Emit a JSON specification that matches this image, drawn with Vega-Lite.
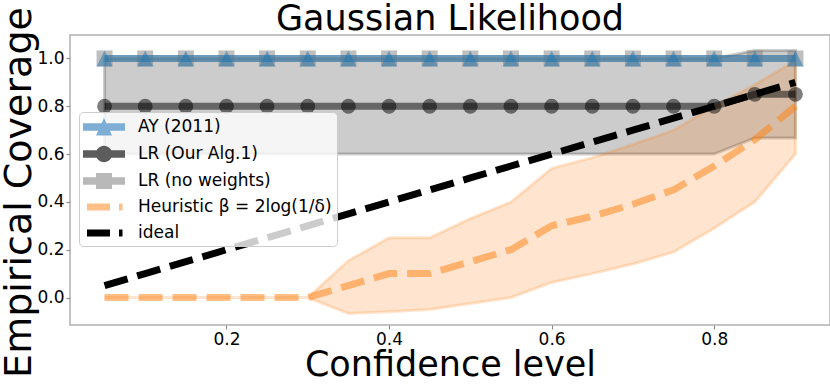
{
  "$schema": "https://vega.github.io/schema/vega-lite/v6.json",
  "width": 760,
  "height": 290,
  "autosize": {"type": "none"},
  "padding": {"left": 70, "top": 35, "right": 0, "bottom": 60},
  "background": "white",
  "title": {"text": "Gaussian Likelihood", "fontSize": 35, "fontWeight": "normal", "font": "DejaVu Sans", "color": "#000", "anchor": "middle", "frame": "group", "baseline": "alphabetic", "offset": -58},
  "data": {"values": [
    {"series": "AY (2011)", "x": 0.05, "y": 1}, {"series": "AY (2011)", "x": 0.1, "y": 1}, {"series": "AY (2011)", "x": 0.15, "y": 1}, {"series": "AY (2011)", "x": 0.2, "y": 1}, {"series": "AY (2011)", "x": 0.25, "y": 1}, {"series": "AY (2011)", "x": 0.3, "y": 1}, {"series": "AY (2011)", "x": 0.35, "y": 1}, {"series": "AY (2011)", "x": 0.4, "y": 1}, {"series": "AY (2011)", "x": 0.45, "y": 1}, {"series": "AY (2011)", "x": 0.5, "y": 1}, {"series": "AY (2011)", "x": 0.55, "y": 1}, {"series": "AY (2011)", "x": 0.6, "y": 1}, {"series": "AY (2011)", "x": 0.65, "y": 1}, {"series": "AY (2011)", "x": 0.7, "y": 1}, {"series": "AY (2011)", "x": 0.75, "y": 1}, {"series": "AY (2011)", "x": 0.8, "y": 1}, {"series": "AY (2011)", "x": 0.85, "y": 1}, {"series": "AY (2011)", "x": 0.9, "y": 1},
    {"series": "LR (Our Alg.1)", "x": 0.05, "y": 0.8, "lo": 0.6, "hi": 1.0}, {"series": "LR (Our Alg.1)", "x": 0.1, "y": 0.8, "lo": 0.6, "hi": 1.0}, {"series": "LR (Our Alg.1)", "x": 0.15, "y": 0.8, "lo": 0.6, "hi": 1.0}, {"series": "LR (Our Alg.1)", "x": 0.2, "y": 0.8, "lo": 0.6, "hi": 1.0}, {"series": "LR (Our Alg.1)", "x": 0.25, "y": 0.8, "lo": 0.6, "hi": 1.0}, {"series": "LR (Our Alg.1)", "x": 0.3, "y": 0.8, "lo": 0.6, "hi": 1.0}, {"series": "LR (Our Alg.1)", "x": 0.35, "y": 0.8, "lo": 0.6, "hi": 1.0}, {"series": "LR (Our Alg.1)", "x": 0.4, "y": 0.8, "lo": 0.6, "hi": 1.0}, {"series": "LR (Our Alg.1)", "x": 0.45, "y": 0.8, "lo": 0.6, "hi": 1.0}, {"series": "LR (Our Alg.1)", "x": 0.5, "y": 0.8, "lo": 0.6, "hi": 1.0}, {"series": "LR (Our Alg.1)", "x": 0.55, "y": 0.8, "lo": 0.6, "hi": 1.0}, {"series": "LR (Our Alg.1)", "x": 0.6, "y": 0.8, "lo": 0.6, "hi": 1.0}, {"series": "LR (Our Alg.1)", "x": 0.65, "y": 0.8, "lo": 0.6, "hi": 1.0}, {"series": "LR (Our Alg.1)", "x": 0.7, "y": 0.8, "lo": 0.6, "hi": 1.0}, {"series": "LR (Our Alg.1)", "x": 0.75, "y": 0.8, "lo": 0.6, "hi": 1.0}, {"series": "LR (Our Alg.1)", "x": 0.8, "y": 0.8, "lo": 0.6, "hi": 1.0}, {"series": "LR (Our Alg.1)", "x": 0.85, "y": 0.85, "lo": 0.667, "hi": 1.033}, {"series": "LR (Our Alg.1)", "x": 0.9, "y": 0.85, "lo": 0.667, "hi": 1.033},
    {"series": "LR (no weights)", "x": 0.05, "y": 1}, {"series": "LR (no weights)", "x": 0.1, "y": 1}, {"series": "LR (no weights)", "x": 0.15, "y": 1}, {"series": "LR (no weights)", "x": 0.2, "y": 1}, {"series": "LR (no weights)", "x": 0.25, "y": 1}, {"series": "LR (no weights)", "x": 0.3, "y": 1}, {"series": "LR (no weights)", "x": 0.35, "y": 1}, {"series": "LR (no weights)", "x": 0.4, "y": 1}, {"series": "LR (no weights)", "x": 0.45, "y": 1}, {"series": "LR (no weights)", "x": 0.5, "y": 1}, {"series": "LR (no weights)", "x": 0.55, "y": 1}, {"series": "LR (no weights)", "x": 0.6, "y": 1}, {"series": "LR (no weights)", "x": 0.65, "y": 1}, {"series": "LR (no weights)", "x": 0.7, "y": 1}, {"series": "LR (no weights)", "x": 0.75, "y": 1}, {"series": "LR (no weights)", "x": 0.8, "y": 1}, {"series": "LR (no weights)", "x": 0.85, "y": 1}, {"series": "LR (no weights)", "x": 0.9, "y": 1},
    {"series": "Heuristic β = 2log(1/δ)", "x": 0.05, "y": 0, "lo": 0, "hi": 0}, {"series": "Heuristic β = 2log(1/δ)", "x": 0.1, "y": 0, "lo": 0, "hi": 0}, {"series": "Heuristic β = 2log(1/δ)", "x": 0.15, "y": 0, "lo": 0, "hi": 0}, {"series": "Heuristic β = 2log(1/δ)", "x": 0.2, "y": 0, "lo": 0, "hi": 0}, {"series": "Heuristic β = 2log(1/δ)", "x": 0.25, "y": 0, "lo": 0, "hi": 0}, {"series": "Heuristic β = 2log(1/δ)", "x": 0.3, "y": 0, "lo": 0, "hi": 0}, {"series": "Heuristic β = 2log(1/δ)", "x": 0.35, "y": 0.05, "lo": -0.067, "hi": 0.154}, {"series": "Heuristic β = 2log(1/δ)", "x": 0.4, "y": 0.1, "lo": -0.06, "hi": 0.25}, {"series": "Heuristic β = 2log(1/δ)", "x": 0.45, "y": 0.1, "lo": -0.05, "hi": 0.25}, {"series": "Heuristic β = 2log(1/δ)", "x": 0.5, "y": 0.15, "lo": -0.025, "hi": 0.33}, {"series": "Heuristic β = 2log(1/δ)", "x": 0.55, "y": 0.2, "lo": 0.0, "hi": 0.4}, {"series": "Heuristic β = 2log(1/δ)", "x": 0.6, "y": 0.3, "lo": 0.063, "hi": 0.54}, {"series": "Heuristic β = 2log(1/δ)", "x": 0.65, "y": 0.34, "lo": 0.1, "hi": 0.585}, {"series": "Heuristic β = 2log(1/δ)", "x": 0.7, "y": 0.39, "lo": 0.14, "hi": 0.64}, {"series": "Heuristic β = 2log(1/δ)", "x": 0.75, "y": 0.45, "lo": 0.19, "hi": 0.7}, {"series": "Heuristic β = 2log(1/δ)", "x": 0.8, "y": 0.55, "lo": 0.29, "hi": 0.8}, {"series": "Heuristic β = 2log(1/δ)", "x": 0.85, "y": 0.66, "lo": 0.4, "hi": 0.89}, {"series": "Heuristic β = 2log(1/δ)", "x": 0.9, "y": 0.8, "lo": 0.6, "hi": 0.99},
    {"series": "ideal", "x": 0.05, "y": 0.05}, {"series": "ideal", "x": 0.1, "y": 0.1}, {"series": "ideal", "x": 0.15, "y": 0.15}, {"series": "ideal", "x": 0.2, "y": 0.2}, {"series": "ideal", "x": 0.25, "y": 0.25}, {"series": "ideal", "x": 0.3, "y": 0.3}, {"series": "ideal", "x": 0.35, "y": 0.35}, {"series": "ideal", "x": 0.4, "y": 0.4}, {"series": "ideal", "x": 0.45, "y": 0.45}, {"series": "ideal", "x": 0.5, "y": 0.5}, {"series": "ideal", "x": 0.55, "y": 0.55}, {"series": "ideal", "x": 0.6, "y": 0.6}, {"series": "ideal", "x": 0.65, "y": 0.65}, {"series": "ideal", "x": 0.7, "y": 0.7}, {"series": "ideal", "x": 0.75, "y": 0.75}, {"series": "ideal", "x": 0.8, "y": 0.8}, {"series": "ideal", "x": 0.85, "y": 0.85}, {"series": "ideal", "x": 0.9, "y": 0.9}
  ]},
  "encoding": {
    "x": {"field": "x", "type": "quantitative", "scale": {"domain": [0.0075, 0.9425], "nice": false, "zero": false},
      "axis": {"values": [0.2, 0.4, 0.6, 0.8], "format": ".1f", "title": "Confidence level", "titleFontSize": 35, "titleY": 50, "titleBaseline": "alphabetic"}},
    "y": {"field": "y", "type": "quantitative", "scale": {"domain": [-0.115, 1.098], "nice": false, "zero": false},
      "axis": {"values": [0, 0.2, 0.4, 0.6, 0.8, 1.0], "format": ".1f", "title": "Empirical Coverage", "titleFontSize": 38, "titleX": -40, "titleY": 157, "titleAngle": -90, "titleBaseline": "alphabetic", "titleAlign": "center"}}
  },
  "layer": [
    {"mark": {"type": "point", "filled": true, "opacity": 0, "size": 400, "strokeWidth": 0},
     "encoding": {
       "color": {"field": "series", "type": "nominal",
         "scale": {"domain": ["AY (2011)", "LR (Our Alg.1)", "LR (no weights)", "Heuristic β = 2log(1/δ)", "ideal"], "range": ["#7eaed5", "#5c5c5c", "#b9b9b9", "#ffbf87", "#000000"]},
         "legend": {"title": null, "orient": "none", "legendX": 9, "legendY": 77,
           "fillColor": "rgba(255,255,255,0.8)", "strokeColor": "#cccccc", "cornerRadius": 4, "padding": 5, "rowPadding": 8,
           "symbolSize": 400, "symbolStrokeWidth": 0, "symbolOpacity": 1, "symbolOffset": 10, "labelOffset": 24,
           "labelFontSize": 17, "labelFont": "DejaVu Sans", "labelColor": "#000000", "labelLimit": 400}},
       "shape": {"field": "series", "type": "nominal",
         "scale": {"domain": ["AY (2011)", "LR (Our Alg.1)", "LR (no weights)", "Heuristic β = 2log(1/δ)", "ideal"],
           "range": ["M-2.1,-0.38H2.1V0.38H-2.1Z M0,-0.9L0.8,0.85L-0.8,0.85Z",
                     "M-2.1,-0.38H2.1V0.38H-2.1Z M-0.82,0A0.82,0.82 0 1,1 0.82,0A0.82,0.82 0 1,1 -0.82,0Z",
                     "M-2.1,-0.38H2.1V0.38H-2.1Z M-0.8,-0.8H0.8V0.8H-0.8Z",
                     "M-1.7,-0.36H0.6V0.36H-1.7Z M1.5,-0.36H1.85V0.36H1.5Z",
                     "M-1.7,-0.36H0.6V0.36H-1.7Z M1.5,-0.36H1.85V0.36H1.5Z"]},
         "legend": {"title": null, "orient": "none", "legendX": 9, "legendY": 77, "symbolOpacity": 1, "symbolStrokeWidth": 0, "symbolSize": 400, "rowPadding": 8, "labelOffset": 24}}
     }},
    {"transform": [{"filter": {"field": "series", "equal": "LR (Our Alg.1)"}}],
     "mark": {"type": "area", "fill": "#000000", "fillOpacity": 0.2, "stroke": "#000000", "strokeOpacity": 0.2, "strokeWidth": 3},
     "encoding": {"y": {"field": "lo", "type": "quantitative"}, "y2": {"field": "hi"}}},
    {"transform": [{"filter": "indexof(datum.series, 'Heuristic') === 0"}],
     "mark": {"type": "area", "fill": "#ff7f0e", "fillOpacity": 0.2, "stroke": "#ff7f0e", "strokeOpacity": 0.2, "strokeWidth": 3},
     "encoding": {"y": {"field": "lo", "type": "quantitative"}, "y2": {"field": "hi"}}},
    {"transform": [{"filter": {"field": "series", "equal": "LR (no weights)"}}],
     "mark": {"type": "line", "strokeWidth": 7, "opacity": 0.5, "color": "#808080"},
     "encoding": {}},
    {"transform": [{"filter": {"field": "series", "equal": "LR (no weights)"}}],
     "mark": {"type": "point", "shape": "square", "size": 256, "filled": true, "color": "#808080", "opacity": 0.5, "strokeWidth": 0},
     "encoding": {}},
    {"transform": [{"filter": {"field": "series", "equal": "AY (2011)"}}],
     "mark": {"type": "line", "strokeWidth": 7, "opacity": 0.5, "color": "#1f77b4"},
     "encoding": {}},
    {"transform": [{"filter": {"field": "series", "equal": "AY (2011)"}}],
     "mark": {"type": "point", "shape": "M0,-1L1,1L-1,1Z", "size": 256, "filled": true, "color": "#1f77b4", "opacity": 0.5, "strokeWidth": 0},
     "encoding": {}},
    {"transform": [{"filter": {"field": "series", "equal": "LR (Our Alg.1)"}}],
     "mark": {"type": "line", "strokeWidth": 7, "opacity": 0.5, "color": "#000000"},
     "encoding": {}},
    {"transform": [{"filter": {"field": "series", "equal": "LR (Our Alg.1)"}}],
     "mark": {"type": "point", "shape": "circle", "size": 220, "filled": true, "color": "#000000", "opacity": 0.5, "strokeWidth": 0},
     "encoding": {}},
    {"transform": [{"filter": "indexof(datum.series, 'Heuristic') === 0"}],
     "mark": {"type": "line", "strokeWidth": 7, "opacity": 0.5, "color": "#ff7f0e", "strokeDash": [24, 10], "strokeCap": "butt"},
     "encoding": {}},
    {"transform": [{"filter": {"field": "series", "equal": "ideal"}}],
     "mark": {"type": "line", "strokeWidth": 7, "opacity": 1, "color": "#000000", "strokeDash": [24, 10], "strokeCap": "butt"},
     "encoding": {}}
  ],
  "config": {
    "font": "DejaVu Sans",
    "view": {"stroke": "#b0b0b0", "strokeWidth": 1.5},
    "legend": {"symbolOpacity": 1},
    "axis": {"grid": false, "domain": false, "tickColor": "#888888", "tickSize": 4, "tickWidth": 1, "labelFontSize": 17, "labelColor": "#000000", "labelFont": "DejaVu Sans", "titleFont": "DejaVu Sans", "titleFontWeight": "normal", "titleColor": "#000000", "labelPadding": 2}
  }
}
